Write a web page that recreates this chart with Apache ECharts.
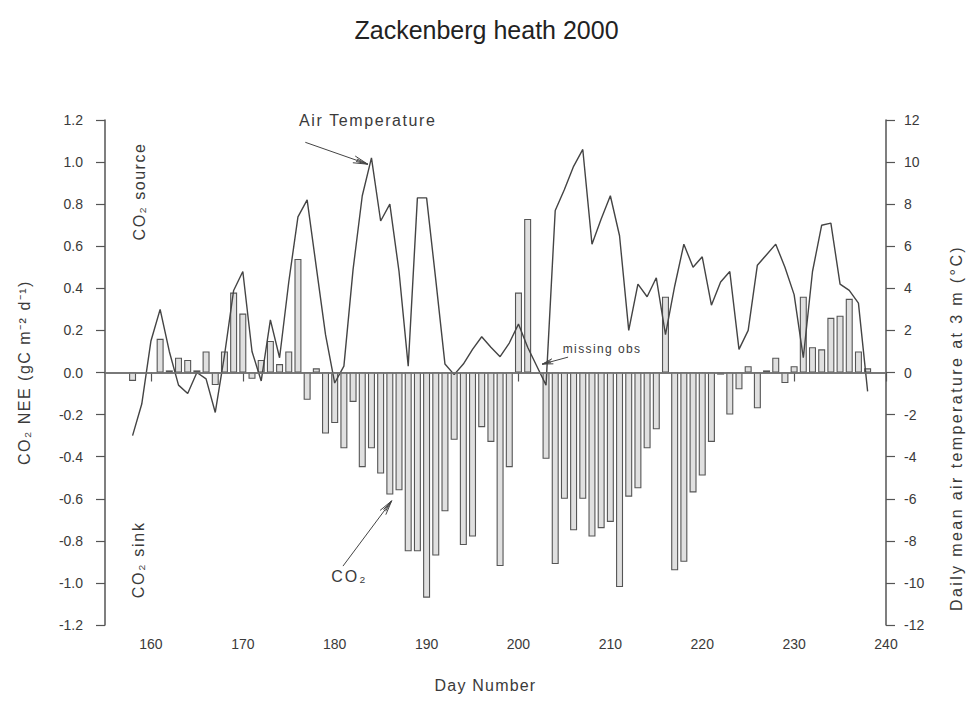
<!DOCTYPE html>
<html>
<head>
<meta charset="utf-8">
<script src="https://cdn.jsdelivr.net/npm/echarts@6/dist/echarts.min.js"></script>
<style>
  html, body { margin: 0; padding: 0; background: #fff; }
  #chart { width: 973px; height: 704px; }
</style>
</head>
<body>
<div id="chart"></div>
<script>
// Day of year for each daily record
const days = [
  158, 159, 160, 161, 162, 163, 164, 165, 166, 167,
  168, 169, 170, 171, 172, 173, 174, 175, 176, 177,
  178, 179, 180, 181, 182, 183, 184, 185, 186, 187,
  188, 189, 190, 191, 192, 193, 194, 195, 196, 197,
  198, 199, 200, 201, 202, 203, 204, 205, 206, 207,
  208, 209, 210, 211, 212, 213, 214, 215, 216, 217,
  218, 219, 220, 221, 222, 223, 224, 225, 226, 227,
  228, 229, 230, 231, 232, 233, 234, 235, 236, 237,
  238
];

// Daily CO2 net ecosystem exchange, gC m-2 d-1 (null = no observation)
const co2Nee = [
  -0.04, null, null, 0.16, 0.01, 0.07, 0.06, 0.01, 0.10, -0.06,
  0.10, 0.38, 0.28, -0.03, 0.06, 0.15, 0.04, 0.10, 0.54, -0.13,
  0.02, -0.29, -0.24, -0.36, -0.14, -0.45, -0.36, -0.48, -0.58, -0.56,
  -0.85, -0.85, -1.07, -0.87, -0.66, -0.32, -0.82, -0.78, -0.26, -0.33,
  -0.92, -0.45, 0.38, 0.73, null, -0.41, -0.91, -0.60, -0.75, -0.60,
  -0.78, -0.74, -0.71, -1.02, -0.59, -0.55, -0.36, -0.27, 0.36, -0.94,
  -0.90, -0.57, -0.49, -0.33, -0.01, -0.20, -0.08, 0.03, -0.17, 0.01,
  0.07, -0.05, 0.03, 0.36, 0.12, 0.11, 0.26, 0.27, 0.35, 0.10,
  0.02
];

// Daily mean air temperature at 3 m, degC
const airTemp = [
  -3.0, -1.5, 1.5, 3.0, 1.0, -0.6, -1.0, 0.0, -0.3, -1.9,
  0.8, 3.9, 4.8, 1.0, -0.4, 2.5, 0.7, 4.3, 7.4, 8.2,
  5.0, 1.8, -0.5, 0.3, 4.9, 8.4, 10.2, 7.2, 8.0, 4.8,
  0.3, 8.3, 8.3, 4.4, 0.4, -0.1, 0.4, 1.1, 1.7, 1.2,
  0.75, 1.4, 2.3, 1.2, 0.3, -0.6, 7.7, 8.7, 9.8, 10.6,
  6.1, 7.3, 8.4, 6.5, 2.0, 4.2, 3.6, 4.5, 1.8, 4.1,
  6.1, 5.0, 5.5, 3.2, 4.3, 4.8, 1.1, 2.0, 5.1, 5.6,
  6.1, 5.0, 3.7, 0.7, 4.8, 7.0, 7.1, 4.2, 3.9, 3.3,
  -0.9
];

// Tick labels along the day axis
const dayTicks = [160, 170, 180, 190, 200, 210, 220, 230, 240];

const FONT = '"Liberation Sans", Arial, sans-serif';
const INK = '#3a3a3a';
const AXIS = '#555';

// Texts for the annotations and axis names
const TXT = {
  title: 'Zackenberg heath 2000',
  xName: 'Day Number',
  leftName: 'CO\u2082 NEE (gC m\u207B\u00B2 d\u207B\u00B9)',
  rightName: 'Daily mean air temperature at 3 m (\u00B0C)',
  airLabel: 'Air Temperature',
  co2Label: 'CO\u2082',
  missing: 'missing obs',
  source: 'CO\u2082 source',
  sink: 'CO\u2082 sink'
};

// Extra tracking (px) applied to the wide-set labels after rendering
const TRACKING = {};
TRACKING[TXT.xName] = 1.2;
TRACKING[TXT.leftName] = 1.5;
TRACKING[TXT.rightName] = 2.4;
TRACKING[TXT.airLabel] = 1.6;
TRACKING[TXT.co2Label] = 2;
TRACKING[TXT.missing] = 1.4;
TRACKING[TXT.source] = 1.5;
TRACKING[TXT.sink] = 1.7;

// Pointer arrows: tail and head in (day, NEE) units
const POINTERS = [
  { from: [176.8, 1.094], to: [183.6, 0.99], head: 15 },
  { from: [180.9, -0.92], to: [186.2, -0.61], head: 15 },
  { from: [205.4, 0.073], to: [202.6, 0.04], head: 11 }
];

const neeData = days.map((d, i) => [d, co2Nee[i]]);
const tempData = days.map((d, i) => [d, airTemp[i]]);

function noteLabel(text, size, rotate) {
  return {
    show: true, formatter: text, position: 'inside', rotate: rotate || 0,
    fontFamily: FONT, fontSize: size, color: INK
  };
}

const chart = echarts.init(document.getElementById('chart'), null, { renderer: 'svg' });

chart.setOption({
  animation: false,
  backgroundColor: '#fff',
  title: {
    text: TXT.title,
    left: 'center', top: 12,
    textStyle: { fontFamily: FONT, fontSize: 25, fontWeight: 'normal', color: '#222' }
  },
  grid: { left: 105, right: 87, top: 120, bottom: 79 },
  xAxis: {
    type: 'value', min: 155, max: 240,
    name: TXT.xName, nameLocation: 'middle', nameGap: 52,
    nameTextStyle: { fontFamily: FONT, fontSize: 16, color: INK, padding: [0, 20, 0, 0] },
    axisLine: { show: true, lineStyle: { color: AXIS, width: 1.5 } },
    axisTick: { show: true, customValues: dayTicks, length: 9, lineStyle: { color: AXIS, width: 1.2 } },
    axisLabel: { customValues: dayTicks, margin: 12, fontFamily: FONT, fontSize: 14, color: INK },
    splitLine: { show: false }
  },
  yAxis: [
    {
      type: 'value', min: -1.2, max: 1.2, interval: 0.2, position: 'left',
      name: TXT.leftName, nameLocation: 'middle', nameGap: 73,
      nameTextStyle: { fontFamily: FONT, fontSize: 16, color: INK },
      axisLine: { show: true, lineStyle: { color: AXIS, width: 1.5 } },
      axisTick: { show: true, length: 9, lineStyle: { color: AXIS, width: 1.2 } },
      axisLabel: {
        margin: 22, fontFamily: FONT, fontSize: 14, color: INK,
        formatter: v => (Math.abs(v) < 1e-9 ? '0.0' : v.toFixed(1))
      },
      splitLine: { show: false }
    },
    {
      type: 'value', min: -12, max: 12, interval: 2, position: 'right',
      axisLine: { show: true, lineStyle: { color: AXIS, width: 1.5 } },
      axisTick: { show: true, length: 9, lineStyle: { color: AXIS, width: 1.2 } },
      axisLabel: { margin: 18, fontFamily: FONT, fontSize: 14, color: INK },
      splitLine: { show: false }
    }
  ],
  series: [
    {
      name: 'CO2', type: 'bar', xAxisIndex: 0, yAxisIndex: 0,
      data: neeData, barWidth: 7,
      itemStyle: { color: '#e0e0e0', borderColor: '#555', borderWidth: 1.1 },
      z: 2,
      markPoint: {
        silent: true, animation: false,
        symbol: 'circle', symbolSize: 1, itemStyle: { color: 'rgba(0,0,0,0)' },
        data: [
          { coord: [183.6, 1.2], label: noteLabel(TXT.airLabel, 16) },
          { coord: [181.6, -0.97], label: noteLabel(TXT.co2Label, 16) },
          { coord: [209.1, 0.11], label: noteLabel(TXT.missing, 12) },
          { coord: [158.8, 0.86], label: noteLabel(TXT.source, 16, 90) },
          { coord: [158.6, -0.89], label: noteLabel(TXT.sink, 16, 90) }
        ]
      }
    },
    {
      name: 'Air Temperature', type: 'line', xAxisIndex: 0, yAxisIndex: 1,
      data: tempData, showSymbol: false, symbol: 'none',
      color: '#444',
      lineStyle: { color: '#444', width: 1.4 },
      z: 3,
      markLine: {
        silent: true, animation: false, symbol: 'none',
        lineStyle: { color: '#777', width: 1.6, type: 'solid' },
        label: { show: false },
        data: [{ yAxis: 0 }]
      }
    }
  ]
});

// Pointer arrows and the right-hand axis title, placed through the axes
const toPx = p => chart.convertToPixel({ xAxisIndex: 0, yAxisIndex: 0 }, p);
const graphics = [];
POINTERS.forEach(a => {
  const s = toPx(a.from), e = toPx(a.to);
  const ang = Math.atan2(s[1] - e[1], s[0] - e[0]);
  const spread = 0.24;
  const wing = k => [e[0] + a.head * Math.cos(ang + k * spread), e[1] + a.head * Math.sin(ang + k * spread)];
  const inner = k => [e[0] + a.head * 0.8 * Math.cos(ang + k * spread * 0.45), e[1] + a.head * 0.8 * Math.sin(ang + k * spread * 0.45)];
  const st = { stroke: '#444', lineWidth: 1, fill: null };
  graphics.push({ type: 'polyline', silent: true, shape: { points: [s, e] }, style: st });
  graphics.push({ type: 'polyline', silent: true, shape: { points: [wing(1), e, wing(-1)] }, style: st });
  graphics.push({ type: 'polyline', silent: true, shape: { points: [inner(1), e, inner(-1)] }, style: st });
});
graphics.push({
  type: 'text', x: 956, y: 428, rotation: Math.PI / 2, silent: true,
  style: {
    text: TXT.rightName,
    font: '16px ' + FONT, fill: INK, align: 'center', verticalAlign: 'middle'
  }
});
chart.setOption({ graphic: graphics });

// Apply tracking to the wide-set labels
document.querySelectorAll('#chart svg text').forEach(t => {
  const s = TRACKING[t.textContent];
  if (s) t.setAttribute('letter-spacing', s + 'px');
});
</script>
</body>
</html>
